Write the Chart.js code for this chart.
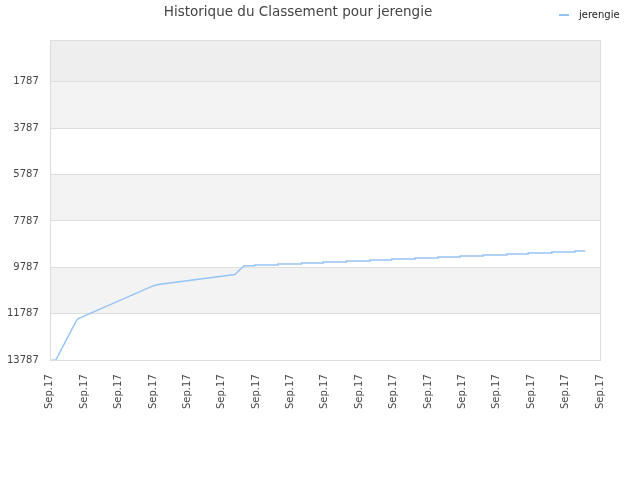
<!DOCTYPE html>
<html>
<head>
<meta charset="utf-8">
<script src="https://cdn.jsdelivr.net/npm/chart.js@4.4.0/dist/chart.umd.min.js"></script>
<style>
  html, body { margin: 0; padding: 0; background: #fff; }
  #wrap { position: relative; width: 640px; height: 480px; }
  #legend { position: absolute; top: 9px; left: 559px; font: 10px "DejaVu Sans", sans-serif; color: #222; }
  #legend .swatch { display: inline-block; width: 10px; height: 2px; vertical-align: middle; margin-right: 10px; }
</style>
</head>
<body>
<div id="wrap">
  <canvas id="rankChart" width="640" height="480"></canvas>
  <div id="legend"></div>
</div>
<script>
'use strict'

const chartTitle = 'Historique du Classement pour jerengie';
const seriesName = 'jerengie';

// x tick labels (one per date slot) and y ticks (rank, reversed axis)
const xLabels = ['Sep.17', 'Sep.17', 'Sep.17', 'Sep.17', 'Sep.17', 'Sep.17', 'Sep.17', 'Sep.17', 'Sep.17',
                 'Sep.17', 'Sep.17', 'Sep.17', 'Sep.17', 'Sep.17', 'Sep.17', 'Sep.17', 'Sep.17'];
const yTicks = [1787, 3787, 5787, 7787, 9787, 11787, 13787];

// position along the date slots, and rank at that position
const rankPos = [0, 0.17, 0.78, 0.83, 3.0, 3.15, 5.38, 5.65,
                 5.96, 5.96, 6.63, 6.63, 7.32, 7.32, 7.95, 7.95, 8.63, 8.63, 9.31, 9.31,
                 9.94, 9.94, 10.62, 10.62, 11.29, 11.29, 11.93, 11.93, 12.60, 12.60,
                 13.29, 13.29, 13.91, 13.91, 14.60, 14.60, 15.27, 15.27, 15.58];
const rankVal = [13787, 13787, 12063, 11990, 10585, 10525, 10094, 9715,
                 9715, 9681, 9681, 9638, 9638, 9594, 9594, 9551, 9551, 9508, 9508, 9465,
                 9465, 9422, 9422, 9379, 9379, 9336, 9336, 9293, 9293, 9250,
                 9250, 9207, 9207, 9164, 9164, 9121, 9121, 9078, 9078];

const lineColor = 'rgb(150, 196, 245)';

// alternating horizontal bands behind the plot
const bandPlugin = {
    id: 'bands',
    beforeDraw(chart) {
        const ctx = chart.ctx;
        const area = chart.chartArea;
        const y = chart.scales.y;
        const edges = [0].concat(yTicks);
        ctx.save();
        for (let i = 0; i < edges.length - 1; i++) {
            const top = y.getPixelForValue(edges[i]);
            const bot = y.getPixelForValue(edges[i + 1]);
            let color = null;
            if (i === 0) color = '#eeeeee';
            else if (i % 2 === 1) color = '#f3f3f3';
            if (color) {
                ctx.fillStyle = color;
                ctx.fillRect(area.left, top, area.right - area.left, bot - top);
            }
        }
        ctx.restore();
    },
    afterDraw(chart) {
        const ctx = chart.ctx;
        const a = chart.chartArea;
        ctx.save();
        ctx.strokeStyle = '#dddddd';
        ctx.lineWidth = 1;
        ctx.strokeRect(Math.round(a.left) + 0.5, Math.round(a.top) + 0.5,
                       Math.round(a.right - a.left), Math.round(a.bottom - a.top));
        ctx.restore();
    }
};

const points = rankPos.map((p, i) => ({ x: p, y: rankVal[i] }));

const ctx = document.getElementById('rankChart').getContext('2d');
const rankChart = new Chart(ctx, {
    type: 'line',
    data: {
        datasets: [{
            label: seriesName,
            data: points,
            borderColor: lineColor,
            backgroundColor: lineColor,
            borderWidth: 1.5,
            pointRadius: 0,
            fill: false,
            tension: 0
        }]
    },
    options: {
        responsive: false,
        animation: false,
        devicePixelRatio: 1,
        layout: { padding: { top: 0, bottom: 65, left: -4, right: 40 } },
        plugins: {
            legend: { display: false },
            tooltip: { enabled: false },
            title: {
                display: true,
                text: chartTitle,
                color: '#444',
                font: { family: 'DejaVu Sans', size: 13.5, weight: 'normal' },
                padding: { top: 4, bottom: 20 }
            }
        },
        scales: {
            x: {
                type: 'linear',
                min: 0,
                max: xLabels.length - 1,
                afterBuildTicks: (scale) => {
                    scale.ticks = xLabels.map((l, i) => ({ value: i }));
                },
                ticks: {
                    autoSkip: false,
                    maxRotation: 90,
                    minRotation: 90,
                    padding: 6,
                    color: '#444',
                    font: { family: 'DejaVu Sans', size: 10 },
                    callback: (v, i) => xLabels[i]
                },
                grid: { display: false },
                border: { display: false }
            },
            y: {
                type: 'linear',
                reverse: true,
                min: 0,
                max: 13787,
                afterBuildTicks: (scale) => {
                    scale.ticks = yTicks.map(v => ({ value: v }));
                },
                ticks: {
                    padding: 11,
                    color: '#444',
                    font: { family: 'DejaVu Sans', size: 10 },
                    callback: (v) => String(v)
                },
                grid: { color: '#dddddd', drawTicks: false },
                border: { display: false }
            }
        }
    },
    plugins: [bandPlugin]
});

// html legend built from the dataset
const legendEl = document.getElementById('legend');
rankChart.data.datasets.forEach(ds => {
    const sw = document.createElement('span');
    sw.className = 'swatch';
    sw.style.background = ds.borderColor;
    legendEl.appendChild(sw);
    legendEl.appendChild(document.createTextNode(ds.label));
});
</script>
</body>
</html>
